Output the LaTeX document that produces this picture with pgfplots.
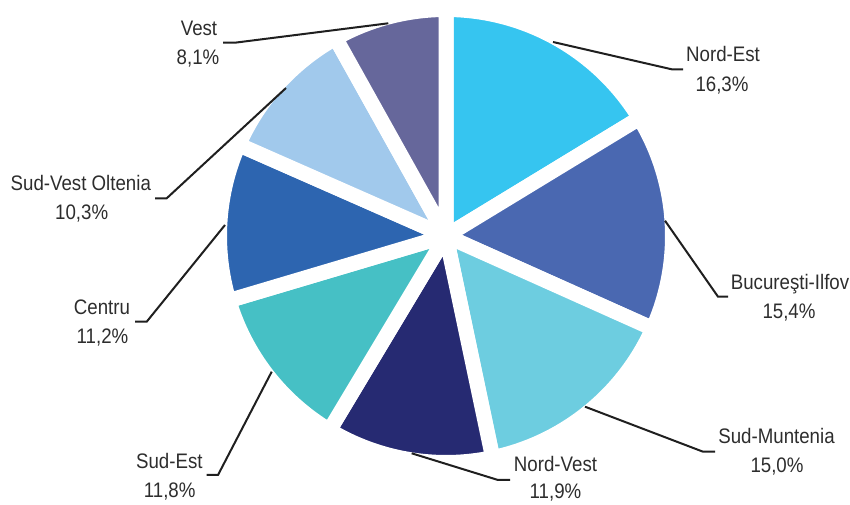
\documentclass[border=0pt]{standalone}
\usepackage{fontspec}
\setmainfont{Liberation Sans}[FakeStretch=0.89]
\usepackage{pgfplots}
\pgfplotsset{compat=1.18}
\definecolor{cNE}{RGB}{54,197,240}
\definecolor{cBI}{RGB}{74,104,177}
\definecolor{cSM}{RGB}{109,205,224}
\definecolor{cNV}{RGB}{38,42,114}
\definecolor{cSE}{RGB}{70,192,197}
\definecolor{cCE}{RGB}{45,101,176}
\definecolor{cSV}{RGB}{161,201,236}
\definecolor{cVE}{RGB}{102,103,155}
\definecolor{txt}{RGB}{45,45,45}
\begin{document}
\begin{tikzpicture}
\begin{axis}[at={(0,0)}, anchor=south west, scale only axis,
  width=850pt, height=505pt, xmin=0, xmax=850, ymin=0, ymax=505,
  hide axis, clip=false]
% pie: share (%) / colour, clockwise from 12 o'clock
\xdef\cum{90}
\foreach \v/\c in {16.3/cNE, 15.4/cBI, 15.0/cSM, 11.9/cNV, 11.8/cSE, 11.2/cCE, 10.3/cSV, 8.1/cVE}{
  \pgfmathsetmacro{\a}{\cum}
  \pgfmathsetmacro{\b}{\cum-3.6*\v}
  \pgfmathsetmacro{\sx}{446+226.5*cos(\a)}
  \pgfmathsetmacro{\sy}{269+226.5*sin(\a)}
  \edef\temp{\noexpand\filldraw[fill=\c, draw=white, line width=15pt, line join=round]
     (axis cs:446,269) -- (axis cs:\sx,\sy) arc[start angle=\a, end angle=\b, radius=226.5pt] -- cycle;}
  \temp
  \xdef\cum{\b}
}
% leader lines
\begin{scope}[line width=2pt, color=black!88]
\draw (axis cs:553,463) -- (axis cs:671.7,435.7) -- (axis cs:683,435.7);
\draw (axis cs:665,284.3) -- (axis cs:718,208.3) -- (axis cs:728,208.3);
\draw (axis cs:585,98.3) -- (axis cs:703,53.3) -- (axis cs:715,53.3);
\draw (axis cs:411.7,51.7) -- (axis cs:498,25) -- (axis cs:510,25);
\draw (axis cs:271.7,133.3) -- (axis cs:218,30) -- (axis cs:206.7,30);
\draw (axis cs:225,280) -- (axis cs:146.7,183.3) -- (axis cs:135,183.3);
\draw (axis cs:286,417) -- (axis cs:166.7,306.7) -- (axis cs:155,306.7);
\draw (axis cs:388.3,481.7) -- (axis cs:235,462.3) -- (axis cs:223,462.3);
\end{scope}
% labels
\begin{scope}[every node/.style={anchor=base, inner sep=0pt, text=txt, font=\fontsize{21}{25}\selectfont}]
\node at (axis cs:723,443.3) {Nord-Est};
\node at (axis cs:722,413) {16,3\%};
\node at (axis cs:790,215) {Bucureşti-Ilfov};
\node at (axis cs:789,186) {15,4\%};
\node at (axis cs:776.5,61.7) {Sud-Muntenia};
\node at (axis cs:777,32) {15,0\%};
\node at (axis cs:555.5,33.5) {Nord-Vest};
\node at (axis cs:555.5,6.5) {11,9\%};
\node at (axis cs:169.3,36.7) {Sud-Est};
\node at (axis cs:169.7,7.7) {11,8\%};
\node at (axis cs:102,190) {Centru};
\node at (axis cs:102.5,161.7) {11,2\%};
\node at (axis cs:80.8,314.3) {Sud-Vest Oltenia};
\node at (axis cs:81.7,285) {10,3\%};
\node at (axis cs:199,469) {Vest};
\node at (axis cs:198,440) {8,1\%};
\end{scope}
\end{axis}
\pgfresetboundingbox
\useasboundingbox (0,0) rectangle (850pt,505pt);
\end{tikzpicture}
\end{document}
